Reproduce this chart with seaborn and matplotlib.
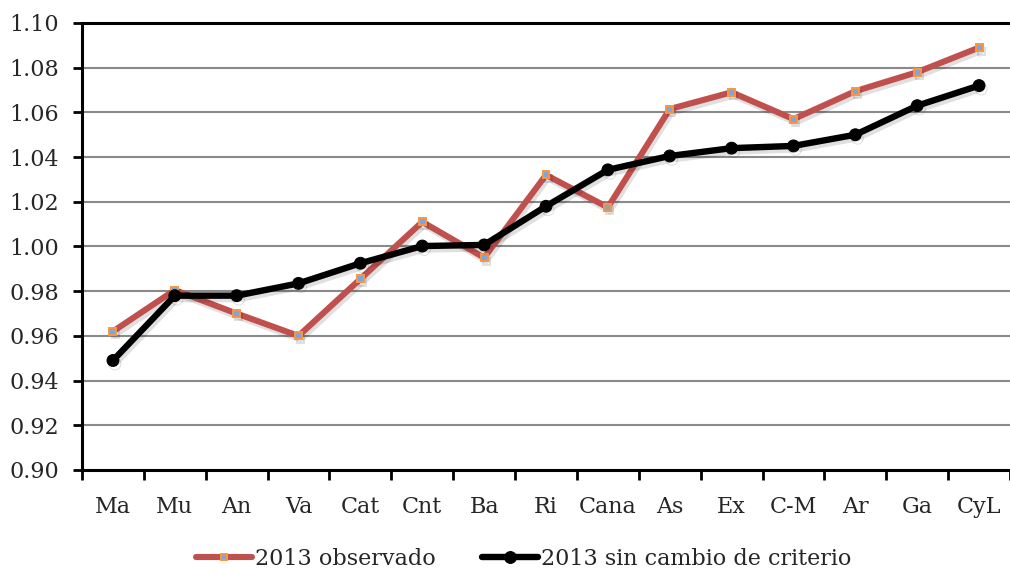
import matplotlib
matplotlib.use("Agg")
import matplotlib.pyplot as plt
import matplotlib.patheffects as pe
import seaborn as sns
import pandas as pd
import numpy as np

regiones = ["Ma", "Mu", "An", "Va", "Cat", "Cnt", "Ba", "Ri", "Cana",
            "As", "Ex", "C-M", "Ar", "Ga", "CyL"]
observado = [0.962, 0.9805, 0.970, 0.960, 0.9855, 1.011, 0.995, 1.032, 1.0175,
             1.0615, 1.069, 1.057, 1.0695, 1.078, 1.089]
sin_cambio = [0.949, 0.978, 0.978, 0.9835, 0.9925, 1.0002, 1.0007, 1.018, 1.0343,
              1.0405, 1.044, 1.045, 1.050, 1.063, 1.072]
y_ticks = [0.90, 0.92, 0.94, 0.96, 0.98, 1.00, 1.02, 1.04, 1.06, 1.08, 1.10]

sns.set_theme(style="white")
plt.rcParams["font.family"] = ["DejaVu Serif"]

fig = plt.figure(figsize=(10.10, 5.69), dpi=100)
ax = fig.add_axes([0.0812, 0.174, 0.9188, 0.7856])

df = pd.DataFrame({"region": regiones, "obs": observado, "sin": sin_cambio})

# grid lines below the data
for v in y_ticks[1:-1]:
    ax.axhline(v, color="#8a8a8a", lw=1.5, zorder=0)

shadow = [pe.SimpleLineShadow(offset=(1.5, -2.5), alpha=0.12, shadow_color="black"),
          pe.Normal()]

sns.lineplot(data=df, x="region", y="obs", ax=ax, sort=False,
             color="#C0504D", lw=4.4, marker="s", markersize=5,
             markerfacecolor="#7FA6D6", markeredgecolor="#F79646",
             markeredgewidth=1.4, label="2013 observado", zorder=3,
             path_effects=shadow)
sns.lineplot(data=df, x="region", y="sin", ax=ax, sort=False,
             color="black", lw=4.6, marker="o", markersize=8.5,
             markeredgecolor="black", label="2013 sin cambio de criterio", zorder=4,
             path_effects=shadow)

ax.set_ylim(0.90, 1.10)
ax.set_yticks(y_ticks)
ax.set_yticklabels([f"{v:.2f}" for v in y_ticks])
ax.set_xlim(-0.5, len(regiones) - 0.5)
ax.set_xticks(range(len(regiones)))
ax.set_xticklabels(regiones)
ax.set_xticks(np.arange(-0.5, len(regiones), 1.0), minor=True)
ax.tick_params(axis="x", which="major", length=0, pad=19, labelsize=16)
ax.tick_params(axis="x", which="minor", length=7, width=2, direction="out",
               color="black", bottom=True)
ax.tick_params(axis="y", length=6.5, width=2, direction="out", color="black",
               left=True, labelsize=16, pad=10)
ax.set_xlabel("")
ax.set_ylabel("")

for side in ["left", "bottom", "top"]:
    ax.spines[side].set_color("black")
    ax.spines[side].set_linewidth(2.2)
ax.spines["right"].set_visible(False)

leg = ax.legend(loc="upper center", bbox_to_anchor=(0.476, -0.13), ncol=2,
                frameon=False, fontsize=16, handlelength=2.5, handletextpad=0.15,
                columnspacing=2.1)
for h in leg.get_lines():
    h.set_path_effects([])

fig.savefig("out.png", dpi=100)
